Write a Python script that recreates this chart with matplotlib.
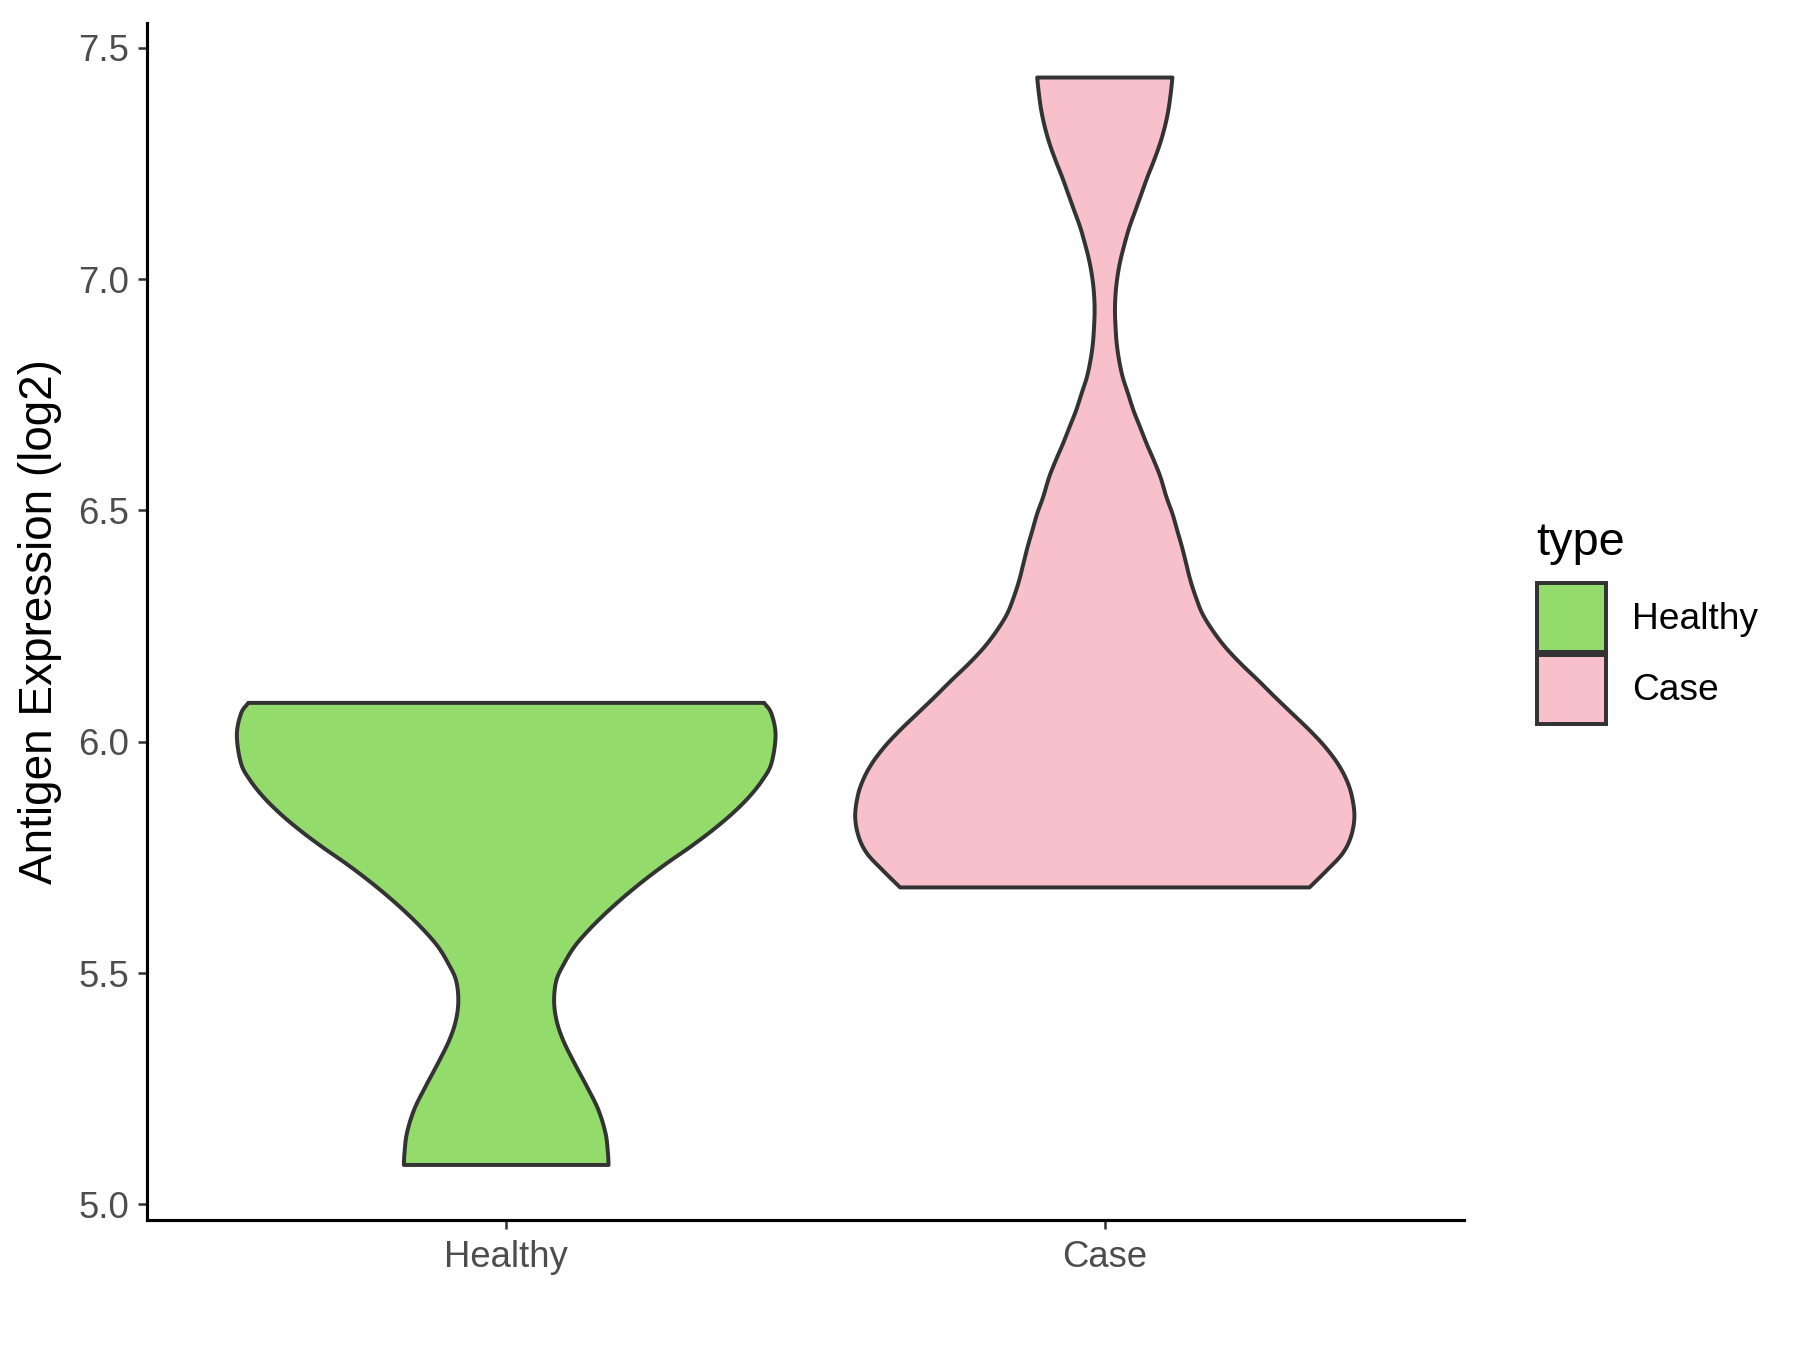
import numpy as np
import matplotlib
matplotlib.use("Agg")
import matplotlib.pyplot as plt
from matplotlib.patches import Patch

plt.rcParams['font.family'] = ['Liberation Sans', 'DejaVu Sans']

# groups and colours
groups = ['Healthy', 'Case']
colors = ['#93DB6A', '#F7C0CB']

# violin outlines: expression level and half-width (x units)
healthy_y = [6.084, 6.061, 6.014, 5.953, 5.917, 5.881, 5.845, 5.809, 5.773, 5.737,
             5.701, 5.665, 5.629, 5.593, 5.557, 5.521, 5.485, 5.441, 5.398, 5.355,
             5.305, 5.254, 5.204, 5.153, 5.110, 5.085]
healthy_w = [0.431, 0.443, 0.450, 0.443, 0.428, 0.406, 0.378, 0.345, 0.308, 0.268,
             0.231, 0.197, 0.166, 0.138, 0.114, 0.097, 0.084, 0.080, 0.084, 0.095,
             0.114, 0.135, 0.154, 0.166, 0.170, 0.171]

case_y = [7.436, 7.400, 7.364, 7.328, 7.292, 7.256, 7.220, 7.184, 7.148, 7.112,
          7.076, 7.040, 7.004, 6.968, 6.932, 6.896, 6.860, 6.824, 6.788, 6.752,
          6.716, 6.680, 6.644, 6.608, 6.572, 6.529, 6.493, 6.457, 6.421, 6.385,
          6.349, 6.313, 6.277, 6.241, 6.205, 6.169, 6.133, 6.097, 6.061, 6.025,
          5.989, 5.953, 5.917, 5.881, 5.837, 5.794, 5.758, 5.722, 5.685]
case_w = [0.113, 0.110, 0.106, 0.100, 0.092, 0.082, 0.071, 0.061, 0.051, 0.041,
          0.033, 0.026, 0.021, 0.018, 0.017, 0.018, 0.020, 0.024, 0.030, 0.039,
          0.048, 0.059, 0.070, 0.082, 0.093, 0.103, 0.113, 0.121, 0.129, 0.136,
          0.143, 0.152, 0.163, 0.180, 0.201, 0.227, 0.256, 0.284, 0.313, 0.342,
          0.368, 0.389, 0.404, 0.413, 0.417, 0.411, 0.397, 0.371, 0.342]

yticks = [5.0, 5.5, 6.0, 6.5, 7.0, 7.5]


def smooth(ys, ws, k=8):
    # catmull-rom through the read points, just to round off the outline
    ys = np.asarray(ys, float)
    ws = np.asarray(ws, float)
    py = np.concatenate([[2 * ys[0] - ys[1]], ys, [2 * ys[-1] - ys[-2]]])
    pw = np.concatenate([[2 * ws[0] - ws[1]], ws, [2 * ws[-1] - ws[-2]]])
    out_y, out_w = [], []
    t = np.linspace(0, 1, k, endpoint=False)
    for i in range(1, len(py) - 2):
        for p, out in ((py, out_y), (pw, out_w)):
            p0, p1, p2, p3 = p[i - 1], p[i], p[i + 1], p[i + 2]
            out.extend(0.5 * (2 * p1 + (p2 - p0) * t
                              + (2 * p0 - 5 * p1 + 4 * p2 - p3) * t ** 2
                              + (3 * p1 - p0 - 3 * p2 + p3) * t ** 3))
    out_y.append(ys[-1])
    out_w.append(ws[-1])
    return np.array(out_y), np.array(out_w)


fig = plt.figure(figsize=(12, 9), dpi=150)
ax = fig.add_axes([0.0817, 0.0963, 0.7316, 0.8867])

edge = '#333333'
for i, (ys, ws) in enumerate([(healthy_y, healthy_w), (case_y, case_w)]):
    ys, ws = smooth(ys, ws)
    pos = i + 1
    xs = np.concatenate([pos - ws, (pos + ws)[::-1]])
    yy = np.concatenate([ys, ys[::-1]])
    ax.fill(xs, yy, facecolor=colors[i], edgecolor=edge, linewidth=1.9,
            joinstyle='round', zorder=2)

ax.set_xlim(0.4, 2.6)
ax.set_ylim(4.966, 7.554)
ax.set_xticks([1, 2])
ax.set_xticklabels(groups)
ax.set_yticks(yticks)
ax.set_yticklabels(['%.1f' % v for v in yticks])

for s in ['top', 'right']:
    ax.spines[s].set_visible(False)
for s in ['left', 'bottom']:
    ax.spines[s].set_linewidth(1.5)
    ax.spines[s].set_color('black')

ax.tick_params(axis='both', length=4.5, width=1.2, color='#333333',
               labelsize=17.5, labelcolor='#4D4D4D')
ax.tick_params(axis='x', pad=5)
ax.tick_params(axis='y', pad=4)
ax.set_ylabel('Antigen Expression (log2)', fontsize=22, color='black', labelpad=8)

# legend
fig.text(0.8537, 0.5889, 'type', fontsize=22.5, ha='left', va='baseline')
handles = [Patch(facecolor=colors[i], edgecolor=edge, linewidth=1.9, label=groups[i])
           for i in range(2)]
leg = fig.legend(handles=handles, loc='upper left',
                 bbox_to_anchor=(0.8539, 0.5681), frameon=False, fontsize=17.8,
                 handlelength=1.86, handleheight=2.475,
                 labelspacing=0.08, handletextpad=0.7, borderpad=0,
                 borderaxespad=0)

fig.savefig('out.png', dpi=150)
